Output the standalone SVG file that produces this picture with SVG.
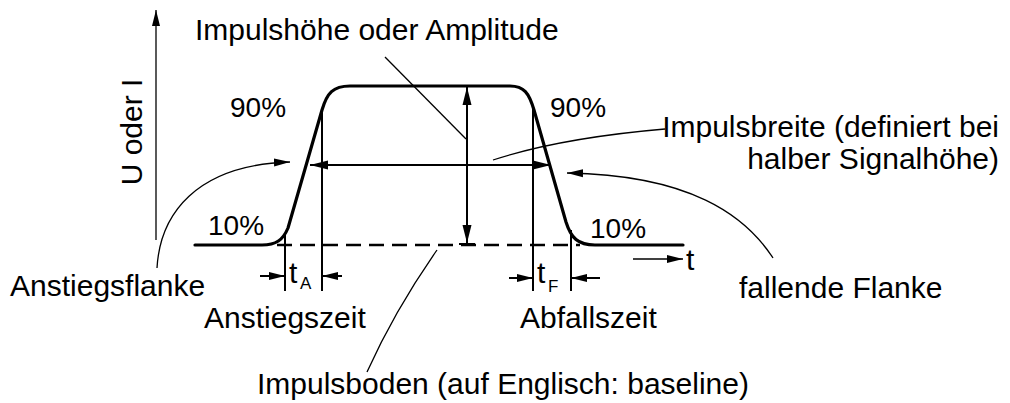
<svg xmlns="http://www.w3.org/2000/svg" width="1010" height="403" viewBox="0 0 1010 403">
<style>
  .t { font-family: "Liberation Sans", Arial, Helvetica, sans-serif; font-size: 30px; fill: #000; }
  .pct { font-family: "Liberation Sans", Arial, Helvetica, sans-serif; font-size: 28px; fill: #000; }
  .sub { font-family: "Liberation Sans", Arial, Helvetica, sans-serif; font-size: 17px; fill: #000; }
  .thick { fill: none; stroke: #000; stroke-width: 3.2; stroke-linejoin: round; stroke-linecap: round; }
  .mid { fill: none; stroke: #000; stroke-width: 2; }
  .thin { fill: none; stroke: #000; stroke-width: 1.3; }
  .dash { fill: none; stroke: #000; stroke-width: 2.5; stroke-dasharray: 15 8; }
</style>
<defs>
  <marker id="big" markerUnits="userSpaceOnUse" markerWidth="18" markerHeight="10" refX="18" refY="5" orient="auto-start-reverse">
    <path d="M0,0.5 L18,5 L0,9.5 z" fill="#000"/>
  </marker>
  <marker id="small" markerUnits="userSpaceOnUse" markerWidth="16" markerHeight="10" refX="16" refY="5" orient="auto-start-reverse">
    <path d="M0,1 L16,5 L0,9 z" fill="#000"/>
  </marker>
</defs>
<rect width="1010" height="403" fill="#fff"/>

<g id="axes">
  <line class="thin" x1="156" y1="240" x2="156" y2="10" marker-end="url(#small)"/>
  <line class="thin" x1="633" y1="259" x2="683" y2="259" marker-end="url(#small)"/>
</g>

<g id="pulse">
  <path class="thick" d="M195,245 L262,245 C276,245 283,240 288,228 L322,110 C327,93 333,86 350,86 L510,86 C524,86 529,93 534,110 L566,222 C571,238 578,245 595,245 L683,245"/>
  <line class="dash" x1="277" y1="245" x2="580" y2="245"/>
</g>

<g id="connectors">
  <line class="mid" x1="285" y1="234" x2="285" y2="291"/>
  <line class="mid" x1="322" y1="110" x2="322" y2="291"/>
  <line class="mid" x1="533" y1="108" x2="533" y2="291"/>
  <line class="mid" x1="571" y1="230" x2="571" y2="291"/>
  <line class="mid" x1="260" y1="276" x2="285" y2="276" marker-end="url(#small)"/>
  <line class="mid" x1="342" y1="276" x2="322" y2="276" marker-end="url(#small)"/>
  <line class="mid" x1="509" y1="278" x2="533" y2="278" marker-end="url(#small)"/>
  <line class="mid" x1="600" y1="278" x2="571" y2="278" marker-end="url(#small)"/>
  <line class="mid" x1="467" y1="87" x2="467" y2="243" marker-start="url(#big)" marker-end="url(#big)"/>
  <line class="mid" x1="459" y1="244" x2="475" y2="244"/>
  <line class="mid" x1="310" y1="165" x2="551" y2="165" stroke-width="2.5" marker-start="url(#big)" marker-end="url(#big)"/>
  <line class="thin" x1="385" y1="57" x2="466" y2="139"/>
  <path class="thin" d="M493,160 Q560,138 665,129"/>
  <path class="thin" d="M157,268 C160,215 195,165 290,162" marker-end="url(#small)"/>
  <path class="thin" d="M773,258 C745,215 690,175 567,173" marker-end="url(#small)"/>
  <path class="thin" d="M437,250 Q395,310 367,372"/>
</g>

<g id="label-amplitude"><text class="t" x="195" y="40">Impulshöhe oder Amplitude</text></g>
<g id="label-yaxis"><text class="t" transform="translate(142,132) rotate(-90)" text-anchor="middle">U oder I</text></g>
<g id="label-90-left"><text class="pct" x="230" y="117">90%</text></g>
<g id="label-90-right"><text class="pct" x="550" y="117">90%</text></g>
<g id="label-10-left"><text class="pct" x="208" y="235">10%</text></g>
<g id="label-10-right"><text class="pct" x="590" y="238">10%</text></g>
<g id="label-width"><text class="t" text-anchor="end"><tspan x="999" y="137">Impulsbreite (definiert bei</tspan><tspan x="999" y="169">halber Signalhöhe)</tspan></text></g>
<g id="label-rise-edge"><text class="t" x="10" y="296">Anstiegsflanke</text></g>
<g id="label-fall-edge"><text class="t" x="739" y="298">fallende Flanke</text></g>
<g id="label-rise-time"><text class="t" x="204" y="328">Anstiegszeit</text></g>
<g id="label-fall-time"><text class="t" x="520" y="328">Abfallszeit</text></g>
<g id="label-baseline"><text class="t" x="257" y="394">Impulsboden (auf Englisch: baseline)</text></g>
<g id="label-tA"><text class="t" x="289" y="283" font-size="28">t</text><text class="sub" x="300" y="289">A</text></g>
<g id="label-tF"><text class="t" x="537" y="283" font-size="28">t</text><text class="sub" x="548" y="292">F</text></g>
<g id="label-t"><text class="t" x="686" y="270" font-size="28">t</text></g>
</svg>
